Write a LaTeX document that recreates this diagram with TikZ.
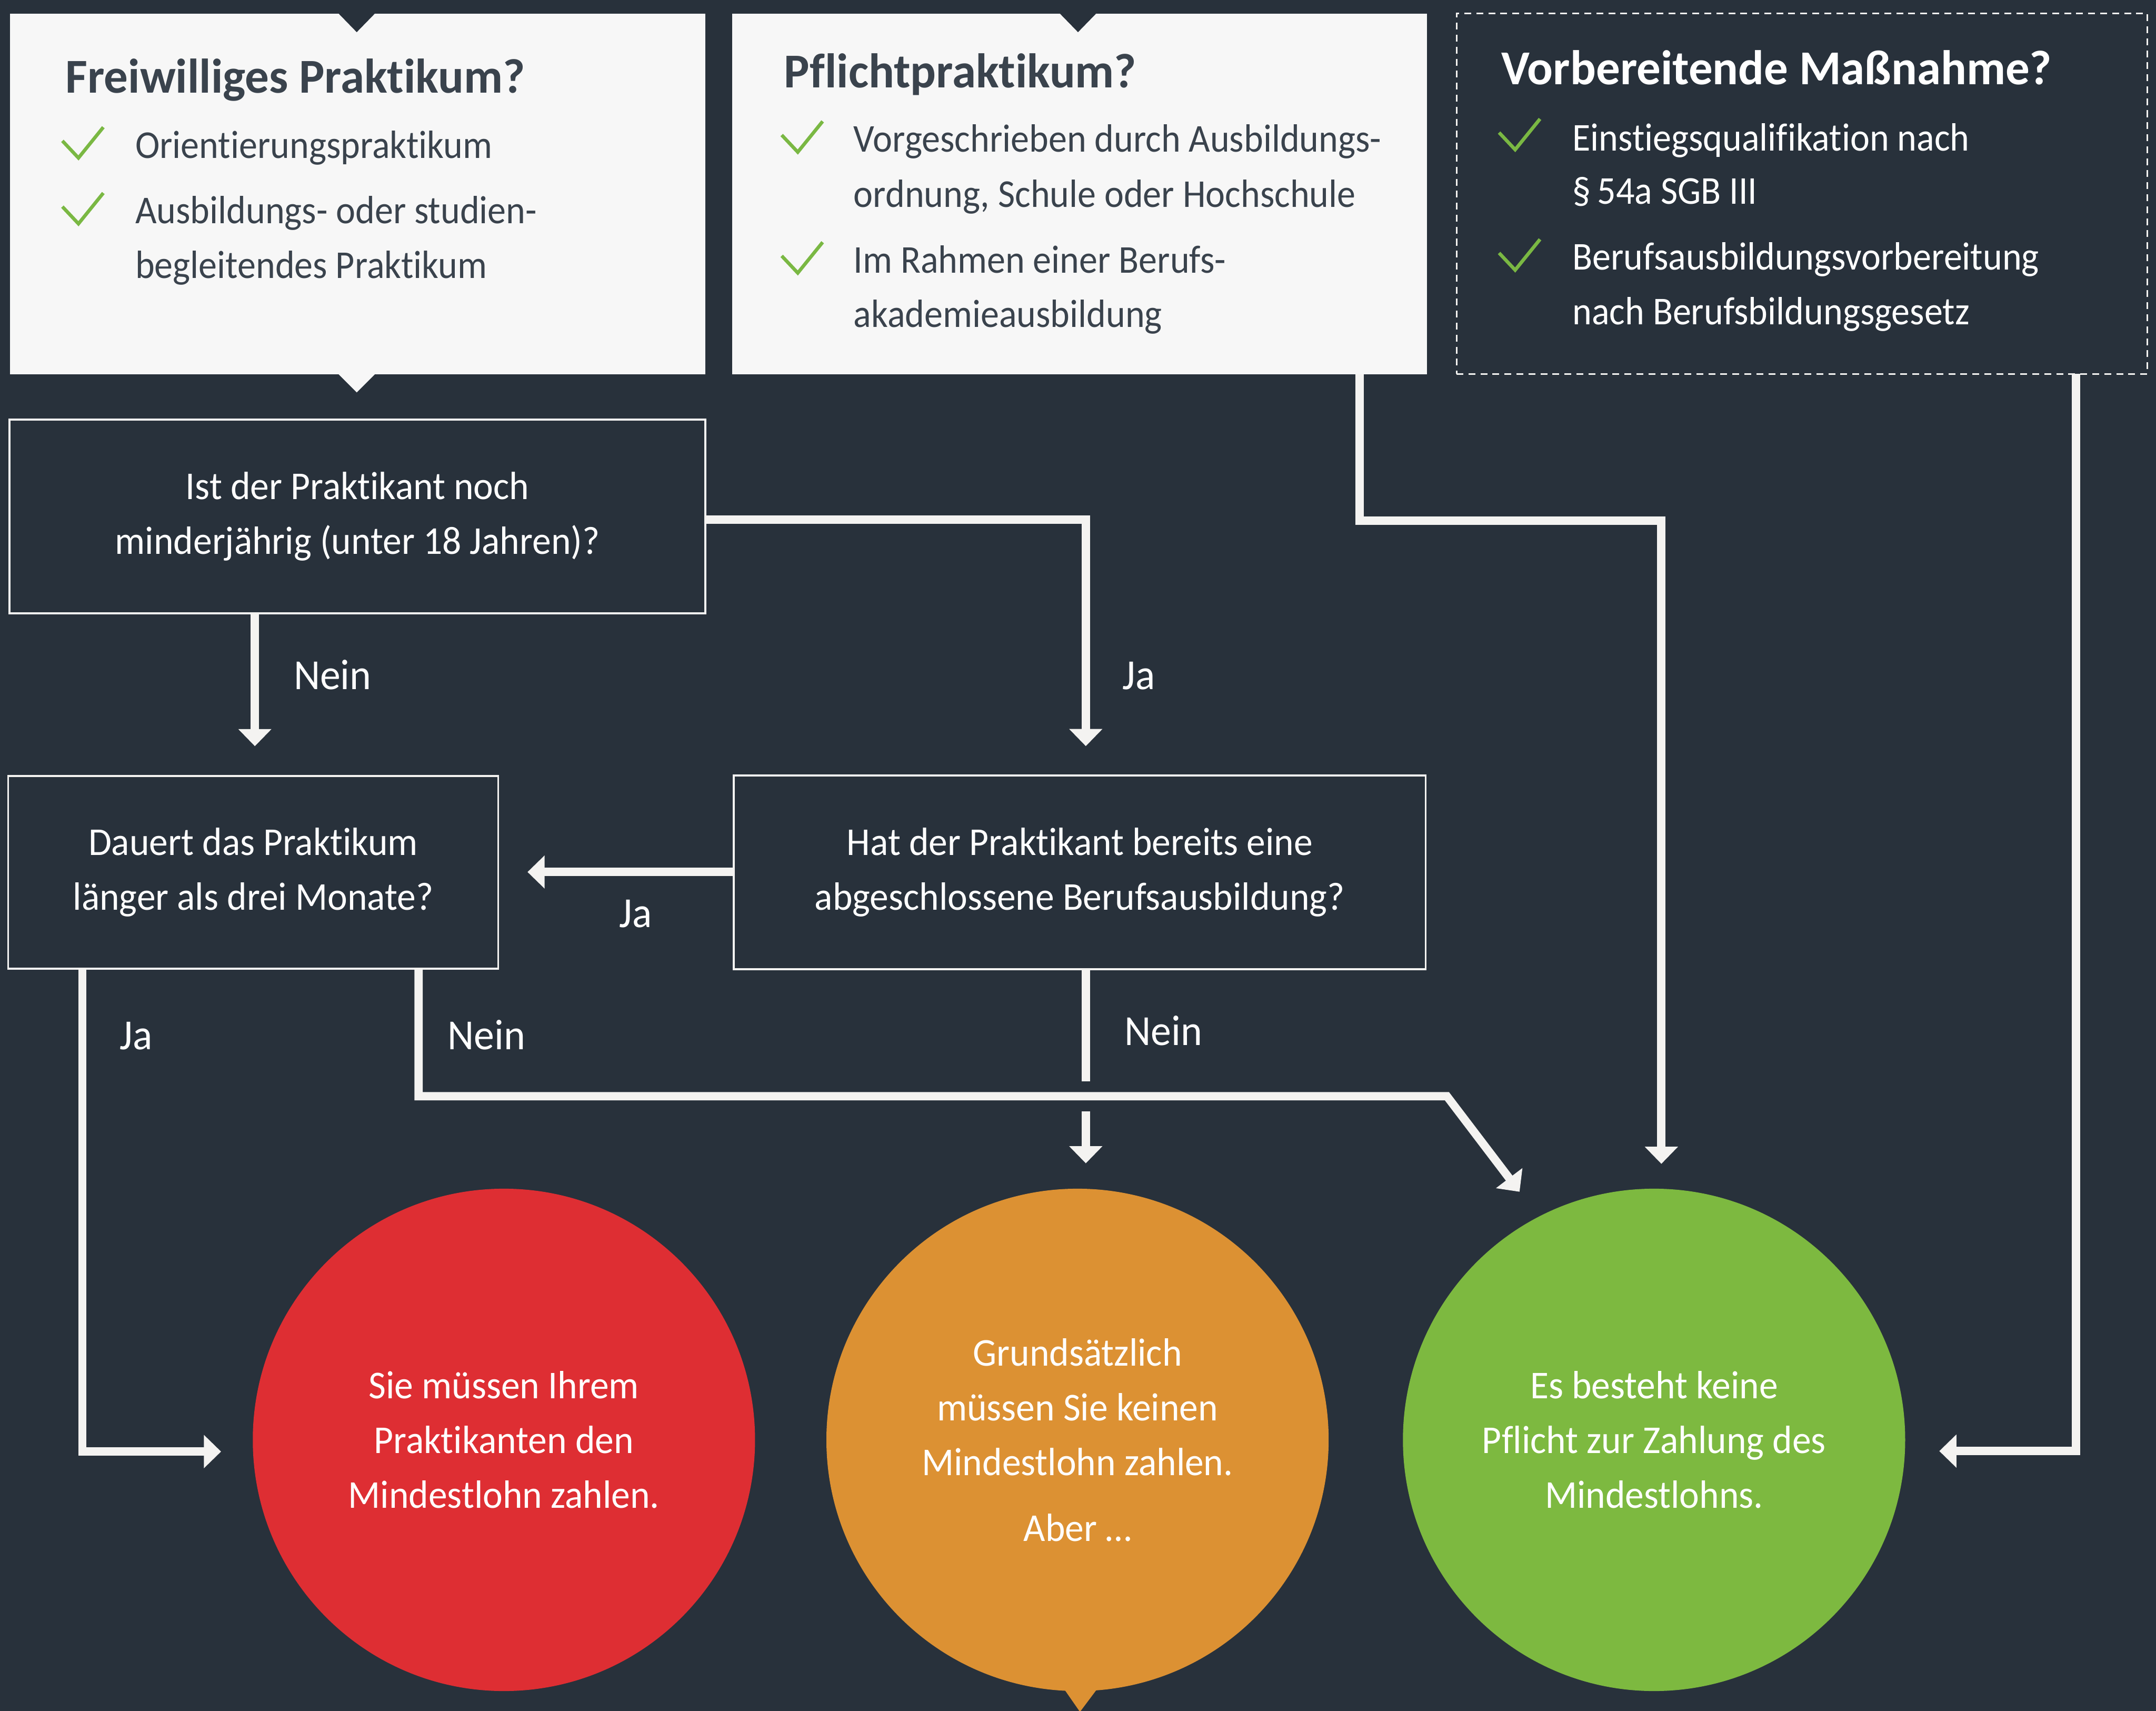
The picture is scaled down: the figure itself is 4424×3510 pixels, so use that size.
\documentclass[tikz,border=0pt]{standalone}
\usepackage{fontspec}
\setmainfont{Carlito}[Ligatures=NoCommon]
\newfontfamily\listf{Carlito}[FakeStretch=0.935, Ligatures=NoCommon]
\newfontfamily\textf{Carlito}[FakeStretch=0.955, Ligatures=NoCommon]
\newfontfamily\ttlf{Carlito}[FakeStretch=0.985, Ligatures=NoCommon]
\usetikzlibrary{arrows.meta}
\definecolor{bgC}{HTML}{28313B}
\definecolor{lightC}{HTML}{F7F7F7}
\definecolor{darkC}{HTML}{3A434D}
\definecolor{lineC}{HTML}{F4F3F1}
\definecolor{redC}{HTML}{DE2E33}
\definecolor{orangeC}{HTML}{DC9133}
\definecolor{greenC}{HTML}{7DB940}
\definecolor{checkC}{HTML}{7AB843}
\begin{document}
\begin{tikzpicture}[x=0.01cm,y=-0.01cm,
  conn/.style={draw=lineC, line width=4.84pt, line join=miter, -{Triangle[width=18.8pt,length=10pt]}},
  plainline/.style={draw=lineC, line width=4.84pt, line join=miter},
  lightbox/.style={fill=lightC, inner sep=0, outer sep=0},
  dashbox/.style={draw=lineC, line width=0.9pt, dash pattern=on 4pt off 3pt, inner sep=0, outer sep=0},
  qbox/.style={draw=lineC, line width=1.1pt, inner sep=0, outer sep=0, text=white, align=center,
     font=\textf\fontsize{23pt}{31.9pt}\selectfont},
  ttl/.style={anchor=base west, inner sep=0, font=\ttlf\fontsize{28.4pt}{34pt}\selectfont\bfseries},
  body/.style={anchor=base west, inner sep=0, font=\listf\fontsize{23pt}{31.9pt}\selectfont},
  lbl/.style={anchor=base west, inner sep=0, text=white, font=\textf\fontsize{25pt}{30pt}\selectfont},
  result/.style={circle, inner sep=0, outer sep=0, minimum size=10.3cm, text=white, align=center,
     font=\textf\fontsize{23pt}{31.9pt}\selectfont},
  chk/.pic={\draw[checkC, line width=2pt, line join=miter] (-33,-35) -- (0,0) -- (51,-63);}
]
% background
\fill[bgC] (0,0) rectangle (4424,3510);
\useasboundingbox (0,0) rectangle (4424,3510);

% top boxes
\node[lightbox, minimum width=14.26cm, minimum height=7.40cm] (fw) at (734,398) {};
\node[lightbox, minimum width=14.25cm, minimum height=7.40cm] (pf) at (2215.5,398) {};
\node[dashbox, minimum width=14.17cm, minimum height=7.39cm] (vm) at (3697.5,397.5) {};
% notches
\fill[bgC] (694,27) -- (770,27) -- (732,66) -- cycle;
\fill[bgC] (2174,27) -- (2250,27) -- (2212,66) -- cycle;
\fill[lightC] (694,767) -- (770,767) -- (732,805) -- cycle;

% titles
\node[ttl, text=darkC] (t1) at (134,191) {Freiwilliges Praktikum?};
\node[ttl, text=darkC] (t2) at (1608,180) {Pflichtpraktikum?};
\node[ttl, text=white] (t3) at (3080,173) {Vorbereitende Maßnahme?};

% box 1 items
\pic at (161,324) {chk};
\node[body, text=darkC] (b1a) at (277,325) {Orientierungspraktikum};
\pic at (161,459) {chk};
\node[body, text=darkC] (b1b) at (277,459) {Ausbildungs- oder studien-};
\node[body, text=darkC] (b1c) at (277,571) {begleitendes Praktikum};

% box 2 items
\pic at (1637,312) {chk};
\node[body, text=darkC] (b2a) at (1751,312) {Vorgeschrieben durch Ausbildungs-};
\node[body, text=darkC] (b2b) at (1751,425) {ordnung, Schule oder Hochschule};
\pic at (1637,560) {chk};
\node[body, text=darkC] (b2c) at (1751,560) {Im Rahmen einer Berufs-};
\node[body, text=darkC] (b2d) at (1751,671) {akademieausbildung};

% box 3 items
\pic at (3109,307) {chk};
\node[body, text=white] (b3a) at (3226,309) {Einstiegsqualifikation nach};
\node[body, text=white] (b3b) at (3226,419) {§\,54a SGB III};
\pic at (3109,554) {chk};
\node[body, text=white] (b3c) at (3226,554) {Berufsausbildungsvorbereitung};
\node[body, text=white] (b3d) at (3226,666) {nach Berufsbildungsgesetz};

% question boxes
\node[qbox, minimum width=14.27cm, minimum height=3.97cm] (ist) at (733.5,1059.5)
  {Ist der Praktikant noch\\minderjährig (unter 18 Jahren)?};
\node[qbox, minimum width=10.05cm, minimum height=3.95cm] (dauert) at (519.5,1789.5)
  {Dauert das Praktikum\\länger als drei Monate?};
\node[qbox, minimum width=14.19cm, minimum height=3.97cm] (hat) at (2215.5,1789.5)
  {Hat der Praktikant bereits eine\\abgeschlossene Berufsausbildung?};

% result circles
\node[result, fill=redC] (red) at (1034,2954)
  {Sie müssen Ihrem\\Praktikanten den\\Mindestlohn zahlen.};
\fill[orangeC] (2166,3440) -- (2270,3440) -- (2216,3512) -- cycle;
\node[result, fill=orangeC] (orange) at (2211,2954)
  {Grundsätzlich\\müssen Sie keinen\\Mindestlohn zahlen.\\[6.5pt]Aber …};
\node[result, fill=greenC] (green) at (3394,2954)
  {Es besteht keine\\Pflicht zur Zahlung des\\Mindestlohns.};

% helper coordinates
\coordinate (xA) at (523,0);
\coordinate (xB) at (2228,0);
\coordinate (xD) at (169,0);
\coordinate (xE) at (859,0);
\coordinate (xG) at (2790,0);
\coordinate (xG2) at (3409,0);
\coordinate (xH) at (4260,0);
\coordinate (yB) at (0,1066);
\coordinate (yC) at (0,1789);
\coordinate (yD) at (0,2978);
\coordinate (yE) at (0,2249);
\coordinate (yG) at (0,1068);
\coordinate (yH) at (0,2977);
\coordinate (eC) at (2969,2249);
\coordinate (eT) at (3118,2445);
\coordinate (fg1) at (2228,2219);
\coordinate (fg2) at (2228,2280);

% connectors
\draw[conn, shorten >=17.35pt] (ist.south -| xA) -- (dauert.north -| xA);
\draw[conn, shorten >=17.1pt] (ist.east |- yB) -| (hat.north -| xB);
\draw[conn, shorten >=17.1pt] (hat.west |- yC) -- (dauert.east |- yC);
\draw[conn, shorten >=18.5pt] (dauert.south -| xD) |- (red.west |- yD);
\draw[conn] (dauert.south -| xE) |- (eC) -- (eT);
\draw[plainline] (hat.south -| xB) -- (fg1);
\draw[conn, shorten >=14.8pt] (fg2) -- (orange.north -| xB);
\draw[conn, shorten >=14.5pt] (pf.south -| xG) |- (yG -| xG2) -- (green.north -| xG2);
\draw[conn, shorten >=19.9pt] (vm.south -| xH) |- (green.east |- yH);

% labels
\node[lbl] (l1) at (602,1414) {Nein};
\node[lbl] (l2) at (2303,1414) {Ja};
\node[lbl] (l3) at (1270,1903) {Ja};
\node[lbl] (l4) at (245,2153) {Ja};
\node[lbl] (l5) at (918,2153) {Nein};
\node[lbl] (l6) at (2307,2144) {Nein};
\end{tikzpicture}
\end{document}
